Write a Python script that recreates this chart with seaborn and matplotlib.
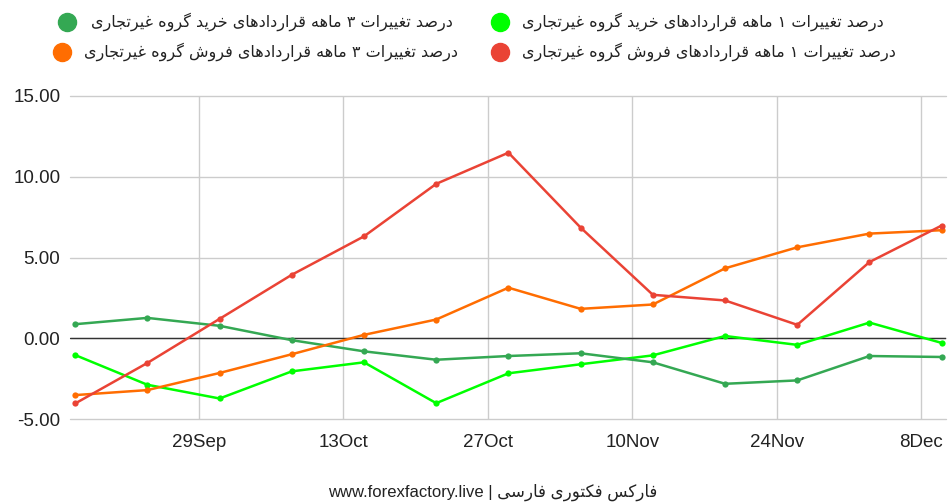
import matplotlib
matplotlib.use('Agg')
import matplotlib.pyplot as plt
from matplotlib.lines import Line2D
import seaborn as sns
import pandas as pd

# weekly report dates
dates = ['2024-09-17', '2024-09-24', '2024-10-01', '2024-10-08', '2024-10-15',
         '2024-10-22', '2024-10-29', '2024-11-05', '2024-11-12', '2024-11-19',
         '2024-11-26', '2024-12-03', '2024-12-10']

# percent change series
buy_1m = [-1.04, -2.88, -3.73, -2.05, -1.49, -4.02, -2.17, -1.61, -1.06, 0.14, -0.41, 0.97, -0.29]
buy_3m = [0.87, 1.26, 0.77, -0.12, -0.81, -1.33, -1.10, -0.93, -1.49, -2.82, -2.61, -1.10, -1.16]
sell_3m = [-3.52, -3.21, -2.15, -0.99, 0.21, 1.16, 3.13, 1.82, 2.09, 4.33, 5.63, 6.48, 6.69]
sell_1m = [-4.04, -1.53, 1.20, 3.93, 6.31, 9.56, 11.49, 6.85, 2.69, 2.34, 0.83, 4.72, 6.98]

tick_dates = ['2024-09-29', '2024-10-13', '2024-10-27', '2024-11-10', '2024-11-24', '2024-12-08']
tick_labels = ['29Sep', '13Oct', '27Oct', '10Nov', '24Nov', '8Dec']
y_ticks = [-5, 0, 5, 10, 15]

names = {
    'buy_1m': 'درصد تغییرات ۱ ماهه قراردادهای خرید گروه غیرتجاری',
    'buy_3m': 'درصد تغییرات ۳ ماهه قراردادهای خرید گروه غیرتجاری',
    'sell_3m': 'درصد تغییرات ۳ ماهه قراردادهای فروش گروه غیرتجاری',
    'sell_1m': 'درصد تغییرات ۱ ماهه قراردادهای فروش گروه غیرتجاری',
}
colors = {'buy_1m': '#00ff00', 'buy_3m': '#34a853', 'sell_3m': '#ff6d01', 'sell_1m': '#ea4335'}
footer = 'فارکس فکتوری فارسی'

# matplotlib has no arabic shaping, so pick presentation forms by hand
# (isolated, final, initial, medial)
FORMS = {
    'ا': ('\uFE8D', '\uFE8E', None, None),
    'د': ('\uFEA9', '\uFEAA', None, None),
    'ر': ('\uFEAD', '\uFEAE', None, None),
    'و': ('\uFEED', '\uFEEE', None, None),
    'ت': ('\uFE95', '\uFE96', '\uFE97', '\uFE98'),
    'ج': ('\uFE9D', '\uFE9E', '\uFE9F', '\uFEA0'),
    'خ': ('\uFEA5', '\uFEA6', '\uFEA7', '\uFEA8'),
    'س': ('\uFEB1', '\uFEB2', '\uFEB3', '\uFEB4'),
    'ش': ('\uFEB5', '\uFEB6', '\uFEB7', '\uFEB8'),
    'ص': ('\uFEB9', '\uFEBA', '\uFEBB', '\uFEBC'),
    'غ': ('\uFECD', '\uFECE', '\uFECF', '\uFED0'),
    'ف': ('\uFED1', '\uFED2', '\uFED3', '\uFED4'),
    'ق': ('\uFED5', '\uFED6', '\uFED7', '\uFED8'),
    'م': ('\uFEE1', '\uFEE2', '\uFEE3', '\uFEE4'),
    'ه': ('\uFEE9', '\uFEEA', '\uFEEB', '\uFEEC'),
    'ک': ('\uFB8E', '\uFB8F', '\uFB90', '\uFB91'),
    'گ': ('\uFB92', '\uFB93', '\uFB94', '\uFB95'),
    'ی': ('\uFBFC', '\uFBFD', '\uFBFE', '\uFBFF'),
}


def rtl(text):
    out = []
    for i, ch in enumerate(text):
        if ch not in FORMS:
            out.append(ch)
            continue
        prev = text[i - 1] if i > 0 else ''
        nxt = text[i + 1] if i + 1 < len(text) else ''
        join_prev = prev in FORMS and FORMS[prev][2] is not None
        join_next = FORMS[ch][2] is not None and nxt in FORMS
        iso, fin, ini, med = FORMS[ch]
        if join_prev and join_next:
            out.append(med)
        elif join_prev:
            out.append(fin)
        elif join_next:
            out.append(ini)
        else:
            out.append(iso)
    return ''.join(out)[::-1]


order = ['buy_1m', 'buy_3m', 'sell_3m', 'sell_1m']
series = {'buy_1m': buy_1m, 'buy_3m': buy_3m, 'sell_3m': sell_3m, 'sell_1m': sell_1m}
df = pd.concat([pd.DataFrame({'date': pd.to_datetime(dates), 'value': series[k], 'series': k})
                for k in order])

sns.set_style('white')
plt.rcParams['font.family'] = ['Liberation Sans', 'DejaVu Sans']

fig = plt.figure(figsize=(9.49, 5.04), dpi=100)
ax = fig.add_axes([70 / 949, 85 / 504, 876 / 949, 323 / 504])

sns.lineplot(data=df, x='date', y='value', hue='series', hue_order=order,
             palette=colors, marker='o', markersize=4.5, markeredgewidth=0,
             linewidth=1.8, legend=False, ax=ax, zorder=3)

ax.axhline(0, color='#333333', linewidth=1, zorder=2)
ax.set_ylim(-5, 15)
ax.set_yticks(y_ticks)
ax.set_yticklabels([f'{v:.2f}' for v in y_ticks])
ax.set_xlim(pd.Timestamp('2024-09-16 12:00'), pd.Timestamp('2024-12-10 10:00'))
ax.set_xticks(pd.to_datetime(tick_dates))
ax.set_xticklabels(tick_labels)
ax.grid(True, color='#cccccc', linewidth=1, zorder=0)
for g in ax.yaxis.get_gridlines():
    g.set_clip_on(False)
ax.tick_params(length=0, labelsize=13.5, colors='#222222')
ax.tick_params(axis='x', pad=11)
ax.tick_params(axis='y', pad=7)
for s in ax.spines.values():
    s.set_visible(False)
ax.set_xlabel('')
ax.set_ylabel('')

# legend, two columns like the original
legend_pos = {
    'buy_3m': (67, 22, 91),
    'sell_3m': (62, 52, 84),
    'buy_1m': (500, 22, 522),
    'sell_1m': (500, 52, 522),
}
for k, (cx, cy, tx) in legend_pos.items():
    fig.add_artist(Line2D([cx / 949], [1 - cy / 504], marker='o', markersize=13,
                          color=colors[k], linestyle='', transform=fig.transFigure))
    fig.text(tx / 949, 1 - cy / 504, rtl(names[k]), fontsize=11.5, color='#222222',
             ha='left', va='center', family=['DejaVu Sans'])

fig.text(493 / 949, 1 - 492 / 504, 'www.forexfactory.live | ' + rtl(footer),
         fontsize=12, color='#222222', ha='center', va='center')

fig.savefig('out.png', dpi=100)
